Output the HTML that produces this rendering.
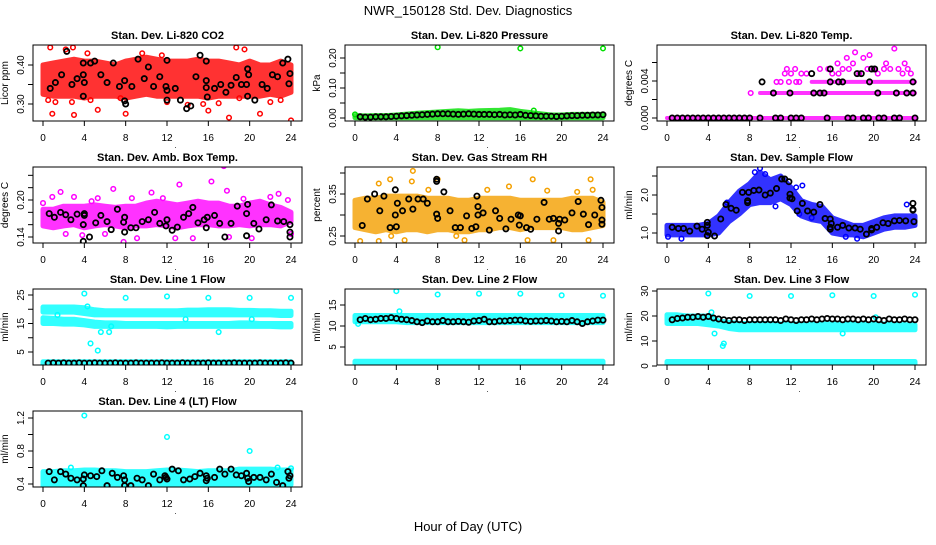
<!DOCTYPE html>
<html><head><meta charset="utf-8"><style>
html,body{margin:0;padding:0;background:#fff;}
svg text{font-family:"Liberation Sans",Arial,sans-serif;}
</style></head><body>
<svg id="chart" width="936" height="540" viewBox="0 0 936 540" xmlns="http://www.w3.org/2000/svg">
<rect x="0" y="0" width="936" height="540" fill="#fff"/>
<text x="468" y="15" text-anchor="middle" font-size="13">NWR_150128  Std. Dev. Diagnostics</text>
<text x="468" y="531" text-anchor="middle" font-size="13">Hour of Day (UTC)</text>
</svg>
<script>
const bandHours=[0,1,2,3,4,5,6,7,8,9,10,11,12,13,14,15,16,17,18,19,20,21,22,23,24];
const xTicks=[0,4,8,12,16,20,24];

// CO2
const co2Lo=[0.325,0.32,0.32,0.32,0.315,0.32,0.32,0.32,0.315,0.32,0.325,0.32,0.32,0.32,0.32,0.32,0.315,0.32,0.32,0.32,0.32,0.32,0.325,0.32,0.33];
const co2Hi=[0.40,0.405,0.41,0.415,0.41,0.41,0.405,0.40,0.41,0.415,0.42,0.415,0.41,0.41,0.41,0.415,0.41,0.41,0.405,0.40,0.41,0.40,0.40,0.41,0.40];
const co2PtT=[0.7,0.9,2.2,2.9,3,4.3,5.3,8,9.6,11.5,16,18,18.7,19.5,21,24,0.5,1.2,2.8,4.6,7.5,12,14,15.5,17,19,22,23];
const co2PtV=[0.445,0.275,0.44,0.445,0.272,0.43,0.285,0.275,0.43,0.425,0.283,0.265,0.445,0.44,0.275,0.258,0.31,0.305,0.305,0.31,0.315,0.305,0.298,0.3,0.302,0.315,0.305,0.31];
const co2BkT=[0.7,1.2,1.8,2.3,2.8,3.3,3.9,3.9,3.9,4.0,4.6,5.0,5.6,6.2,6.8,7.4,7.9,7.9,8,8.6,9.2,9.8,10.2,10.7,11.3,11.9,12,12,12,12.8,13.3,13.9,14.3,14.8,15.2,15.8,15.8,15.9,15.8,16.6,17.2,17.7,18.2,18.7,19.2,19.7,19.8,19.8,19.9,20.5,21.2,21.7,22.2,22.7,23.2,23.7,23.8,23.9];
const co2BkV=[0.34,0.355,0.375,0.435,0.35,0.365,0.405,0.375,0.32,0.355,0.405,0.41,0.375,0.355,0.405,0.345,0.36,0.308,0.30,0.345,0.415,0.365,0.395,0.345,0.37,0.345,0.335,0.31,0.412,0.34,0.31,0.288,0.295,0.37,0.425,0.36,0.342,0.318,0.41,0.34,0.35,0.33,0.348,0.368,0.35,0.35,0.39,0.32,0.375,0.31,0.35,0.34,0.375,0.37,0.405,0.415,0.352,0.378];

// Pressure
const presLo=[0.001,0.001,0.001,0.001,0.001,0.001,0.001,0.001,0.001,0.001,0.001,0.001,0.001,0.001,0.001,0.001,0.001,0.001,0.001,0.001,0.001,0.001,0.001,0.001,0.001];
const presHi=[0.008,0.007,0.008,0.008,0.01,0.013,0.016,0.018,0.02,0.022,0.024,0.022,0.024,0.025,0.026,0.028,0.022,0.018,0.014,0.01,0.01,0.012,0.012,0.012,0.012];
const presPtT=[8,16,24,0,17.3];
const presPtV=[0.236,0.232,0.232,0.012,0.025];
const presBkV=[0.004,0.003,0.003,0.004,0.004,0.004,0.005,0.006,0.007,0.008,0.009,0.010,0.011,0.012,0.013,0.014,0.014,0.014,0.013,0.012,0.013,0.014,0.013,0.012,0.012,0.012,0.011,0.012,0.010,0.011,0.010,0.012,0.009,0.008,0.007,0.006,0.006,0.006,0.005,0.006,0.007,0.008,0.008,0.009,0.009,0.010,0.010,0.011];

// Li-820 Temp
const tmpBaseLo=[0,0,0,0,0,0,0,0,0,0,0,0,0,0,0,0,0,0,0,0,0,0,0,0,0];
const tmpL2=[null,null,null,null,null,null,null,null,null,0.0027,0.0027,0.0027,0.0027,0.0027,0.0027,0.0027,0.0027,0.0027,0.0027,0.0027,0.0027,0.0027,0.0027,0.0027,0.0027];
const tmpL3=[null,null,null,null,null,null,null,null,null,null,null,null,null,null,0.0039,0.0039,0.0039,0.0039,0.0039,0.0039,0.0039,0.0039,0.0039,0.0039,0.0039];
const tmpPtT=[8.1,11.4,11.6,12.4,12,13,13.5,14.8,15.6,16,16.5,16.6,17,17.4,17.6,18,18.2,18.6,19,19.4,19.6,20,20.4,21,21.2,21.6,22,22.4,22.8,23,23.3,23.6,12.8,11,10.6,11.8,12.5];
const tmpPtV=[0.0027,0.0048,0.0053,0.0053,0.0048,0.0048,0.0048,0.0053,0.0053,0.0048,0.0059,0.0048,0.0053,0.0065,0.0053,0.0059,0.0071,0.0048,0.0065,0.0053,0.0068,0.0053,0.0048,0.0053,0.0059,0.0053,0.0075,0.0053,0.0048,0.0059,0.0053,0.0048,0.0039,0.0039,0.0039,0.0039,0.0039];
const tmpBkT=[0.5,1,1.5,2,2.5,3,3.5,4,4.5,5,5.5,6,6.5,7,7.5,8,9,10.5,11,12,12.5,13,15.5,17.5,18,19,19.5,20.5,21,22,22.5,24,9.2,10.3,11.9,14,14.2,14.8,15.2,15.8,15.8,16.6,17,18.4,18.8,19.8,19.6,20.1,20.4,22.2,23.2,23.8,23.8];
const tmpBkV=[0,0,0,0,0,0,0,0,0,0,0,0,0,0,0,0,0,0,0,0,0,0,0,0,0,0,0,0,0,0,0,0,0.0039,0.0027,0.0027,0.0048,0.0027,0.0027,0.0027,0.0053,0.0039,0.0039,0.0039,0.0048,0.0048,0.0053,0.0039,0.0053,0.0027,0.0027,0.0027,0.0039,0.0027];

// Amb box temp
const ambLo=[0.158,0.155,0.158,0.16,0.155,0.158,0.16,0.158,0.155,0.158,0.158,0.16,0.158,0.155,0.158,0.16,0.16,0.158,0.158,0.16,0.158,0.16,0.16,0.158,0.165];
const ambHi=[0.185,0.185,0.19,0.19,0.19,0.192,0.19,0.188,0.19,0.19,0.195,0.198,0.195,0.192,0.195,0.198,0.195,0.195,0.19,0.19,0.195,0.198,0.192,0.188,0.18];
const ambPtT=[0,0.9,1.7,2.2,3,4.7,5.3,6.8,7.8,8.6,9.1,10.5,11.6,12.8,13.2,14.5,16.3,17.5,17.8,18,19.4,20.2,22,22.8,23.7,24,6,3.8];
const ambPtV=[0.195,0.205,0.213,0.145,0.205,0.198,0.203,0.218,0.132,0.203,0.138,0.212,0.203,0.138,0.225,0.138,0.23,0.255,0.215,0.14,0.202,0.138,0.205,0.21,0.2,0.145,0.145,0.143];
const ambBkT=[0.6,1.1,1.7,2.2,2.7,3.3,3.9,3.9,4.0,4.0,4.5,5.1,5.6,6.2,6.6,7.2,7.8,7.9,7.9,8.5,9.0,9.6,10.2,10.8,11.3,11.9,12.0,12.5,13.0,13.6,14.1,14.5,15.0,15.6,15.8,15.9,16.6,17.1,17.6,18.2,18.8,19.7,19.7,19.8,20.4,20.9,21.6,22.1,22.7,23.3,23.9,23.9,23.9];
const ambBkV=[0.178,0.172,0.18,0.176,0.168,0.177,0.133,0.16,0.175,0.178,0.14,0.163,0.175,0.165,0.152,0.185,0.164,0.148,0.172,0.155,0.155,0.165,0.168,0.18,0.162,0.158,0.168,0.151,0.156,0.172,0.178,0.188,0.163,0.168,0.155,0.172,0.175,0.162,0.14,0.162,0.19,0.142,0.178,0.193,0.162,0.153,0.168,0.192,0.166,0.165,0.14,0.148,0.16];

// Gas stream RH
const rhLo=[0.27,0.265,0.26,0.265,0.26,0.265,0.265,0.26,0.265,0.265,0.26,0.26,0.265,0.265,0.27,0.27,0.265,0.27,0.27,0.27,0.27,0.265,0.265,0.27,0.275];
const rhHi=[0.335,0.34,0.34,0.345,0.345,0.345,0.345,0.34,0.34,0.34,0.335,0.335,0.34,0.34,0.34,0.34,0.335,0.335,0.335,0.335,0.335,0.34,0.34,0.34,0.33];
const rhPtT=[0.5,2.3,3.4,2.3,4.8,5.6,5.5,7.1,8,9.8,10.6,14.9,16.7,17.2,18.6,19.2,21.5,22.6,22.8,23,3.5,12.8];
const rhPtV=[0.238,0.375,0.385,0.238,0.24,0.405,0.38,0.36,0.385,0.25,0.24,0.368,0.24,0.385,0.358,0.24,0.355,0.24,0.385,0.36,0.25,0.36];
const rhBkT=[0.7,1.2,1.9,2.4,2.8,3.4,3.9,3.9,4.0,4.1,4.6,5.2,5.6,6.1,6.6,7.0,7.9,7.9,7.9,8.0,8.6,9.2,9.7,10.2,10.8,11.3,11.7,11.8,11.9,11.9,12.4,13.0,13.6,14.0,14.6,15.1,15.8,15.9,16.0,16.6,17.0,17.6,18.3,18.8,19.2,19.7,19.7,19.8,20.3,21.0,21.6,22.1,22.6,23.2,23.8,23.9,23.9,23.9];
const rhBkV=[0.275,0.338,0.35,0.31,0.345,0.27,0.36,0.3,0.272,0.328,0.31,0.338,0.314,0.338,0.338,0.328,0.385,0.38,0.302,0.292,0.355,0.31,0.27,0.27,0.298,0.268,0.272,0.345,0.32,0.3,0.305,0.264,0.31,0.292,0.267,0.29,0.3,0.276,0.298,0.27,0.266,0.29,0.33,0.29,0.292,0.262,0.28,0.29,0.288,0.305,0.332,0.302,0.277,0.3,0.335,0.288,0.278,0.318];

// Sample flow
const sfLo=[0.95,0.95,0.95,0.95,0.95,1.0,1.3,1.5,1.75,1.8,1.8,1.9,1.75,1.45,1.35,1.3,1.0,0.95,0.95,0.9,1.0,1.1,1.15,1.15,1.2];
const sfHi=[1.2,1.2,1.2,1.2,1.25,1.45,1.8,2.1,2.3,2.6,2.4,2.5,2.2,1.85,1.75,1.7,1.4,1.3,1.2,1.2,1.3,1.4,1.45,1.45,1.45];
const sfPtT=[0.1,1.4,9.0,8.5,10.5,12.5,12.8,13.1,14,17.3,18.4,23.2,5.8,9.5];
const sfPtV=[0.9,0.85,2.7,2.6,1.7,2.2,1.5,2.25,1.4,0.9,0.85,1.75,1.8,2.55];
const sfBkT=[0.5,1.1,1.6,2.2,2.9,3.4,3.9,3.9,4.0,3.9,4.6,5.2,5.7,6.2,6.7,7.3,7.8,7.8,7.9,8.4,8.9,9.5,10.0,10.6,11.1,11.4,11.8,11.9,11.9,12.1,12.6,13.1,13.6,14.2,14.8,15.3,15.8,15.8,15.9,15.8,16.5,17.0,17.6,18.2,18.7,19.3,19.8,19.8,20.3,20.9,21.4,22.0,22.5,23.1,23.8,23.8,23.9,23.8];
const sfBkV=[1.15,1.12,1.12,1.05,1.18,1.1,1.28,1.2,1.02,0.93,0.92,1.37,1.75,1.65,1.6,2.07,1.85,1.8,2.07,2.12,2.13,2.0,2.05,2.17,2.42,2.42,2.35,2.02,1.92,1.9,1.58,1.78,1.58,1.55,1.75,1.38,1.37,1.15,1.25,1.1,1.15,1.2,1.13,1.13,1.1,0.97,1.08,1.12,1.15,1.27,1.25,1.32,1.33,1.32,1.78,1.62,1.3,1.6];

// Line 1
const l1ALo=[19,19,19,19,18.5,18,18,18,18,18,18,18,18,18,18,18,18,18,18,18,18,18,18,17.8,17.8];
const l1AHi=[20.8,20.8,20.8,20.8,20.5,19.8,19.5,19.5,19.5,19.5,19.5,19.5,19.5,19.5,19.7,19.7,19.8,19.8,19.8,19.6,19.6,19.5,19.5,19.3,19.3];
const l1BLo=[15,15,14.8,14.8,14.5,14,14,14,14,14,14,14,13.8,14,14,14,14,14,14,14,14,14,14,13.8,13.8];
const l1BHi=[17,16.8,16.5,16.5,16,15.5,15.2,15.2,15,15,15,15,15,15,15,15,15,15,15,15.2,15.2,15,15,15,15];
const l1CLo=[0.6,0.6,0.6,0.6,0.6,0.6,0.6,0.6,0.6,0.6,0.6,0.6,0.6,0.6,0.6,0.6,0.6,0.6,0.6,0.6,0.6,0.6,0.6,0.6,0.6];
const l1CHi=[1.6,1.6,1.6,1.6,1.6,1.6,1.6,1.6,1.6,1.6,1.6,1.6,1.6,1.6,1.6,1.6,1.6,1.6,1.6,1.6,1.6,1.6,1.6,1.6,1.6];
const l1PtT=[4,8,12,16,20,24,4.3,4.6,5.3,5.6,6.4,6.6,1.4,13.8,17,20.2];
const l1PtV=[25.5,24,24.5,24,24,24,21,8,5.5,12,12,14,18,16.5,12,16.5];
const l1BkV=[1.1,1.2,1.1,1.2,1.1,1.1,1.2,1.1,1.1,1.2,1.1,1.1,1.1,1.2,1.1,1.1,1.1,1.2,1.1,1.1,1.1,1.1,1.2,1.1,1.1,1.1,1.2,1.1,1.1,1.1,1.1,1.2,1.1,1.1,1.1,1.1,1.2,1.1,1.1,1.1,1.1,1.2,1.1,1.1,1.1,1.1,1.2,1.1];

// Line 2
const l2ALo=[11,11,11,11,11,10.8,10.8,10.8,10.8,10.8,10.8,10.8,10.8,10.8,10.8,10.8,10.8,10.8,10.8,10.8,10.8,10.8,10.8,10.8,10.8];
const l2AHi=[12.5,12.5,12.5,12.5,12.5,12.5,12.5,12.5,12.5,12.5,12.5,12.5,12.5,12.5,12.5,12.5,12.5,12.5,12.5,12.5,12.5,12.5,12.5,12.5,12.5];
const l2CLo=[0.6,0.6,0.6,0.6,0.6,0.6,0.6,0.6,0.6,0.6,0.6,0.6,0.6,0.6,0.6,0.6,0.6,0.6,0.6,0.6,0.6,0.6,0.6,0.6,0.6];
const l2CHi=[1.6,1.6,1.6,1.6,1.6,1.6,1.6,1.6,1.6,1.6,1.6,1.6,1.6,1.6,1.6,1.6,1.6,1.6,1.6,1.6,1.6,1.6,1.6,1.6,1.6];
const l2PtT=[4,4.3,8,12,16,20,24,0.3];
const l2PtV=[18.3,13.5,17.5,17.7,17.7,17.3,17.2,10.5];
const l2BkV=[11.5,11.8,11.5,11.6,11.8,11.8,12,11.8,11.6,11.5,11.3,11,10.8,11.2,11,11,11.3,11,11,11.1,11,10.9,11.2,11.3,11.6,11,11,11.2,11.2,11.3,11.4,11.4,11.2,11.1,11.2,11.2,11.3,11.2,11,11.1,11,11.3,11,10.6,11,11.2,11.4,11.4];

// Line 3
const l3ALo=[17,17,17,17,16.5,16,15,14.5,14.5,14.5,14.5,14.5,14.5,14.5,14.5,14.5,14.5,14.5,14.5,14.5,14.5,14.5,14.5,14.5,14.5];
const l3AHi=[20.5,20.5,20,20,20,18,17.5,17,17,17,17,16.8,16.8,16.8,16.8,16.8,16.8,16.8,16.8,16.8,16.8,16.8,16.8,16.5,16.5];
const l3CLo=[0.6,0.6,0.6,0.6,0.6,0.6,0.6,0.6,0.6,0.6,0.6,0.6,0.6,0.6,0.6,0.6,0.6,0.6,0.6,0.6,0.6,0.6,0.6,0.6,0.6];
const l3CHi=[1.8,1.8,1.8,1.8,1.8,1.8,1.8,1.8,1.8,1.8,1.8,1.8,1.8,1.8,1.8,1.8,1.8,1.8,1.8,1.8,1.8,1.8,1.8,1.8,1.8];
const l3PtT=[4,8,12,16,20,24,4.3,4.6,5.4,5.5,17,20.2];
const l3PtV=[29,28,28,28.3,28,28.5,21.5,13,8,9,13,19.5];
const l3BkV=[18.5,19,19.2,19.5,19.5,19.8,19.5,19.8,19.2,18.8,18.5,18.2,18.5,18.5,18.2,18.5,18.5,18.5,18.5,18.5,18.5,18.2,18.8,18.5,18.2,18.5,18.5,18.8,18.5,18.8,19,18.8,18.8,18.5,18.8,18.8,18.5,18.8,18.5,18.8,18.5,18.2,18.8,18.5,18.5,18.8,18.5,18.5];

// Line 4
const l4Lo=[0.38,0.37,0.36,0.37,0.37,0.37,0.37,0.37,0.36,0.37,0.37,0.38,0.37,0.37,0.36,0.36,0.37,0.37,0.37,0.37,0.37,0.37,0.38,0.38,0.39];
const l4Hi=[0.55,0.55,0.56,0.56,0.57,0.57,0.56,0.56,0.55,0.55,0.55,0.56,0.57,0.57,0.56,0.55,0.56,0.56,0.56,0.58,0.58,0.58,0.58,0.57,0.57];
const l4PtT=[4,12,20,1.8,2.7,13.6,14.2,19.6,20.9,22.7,24];
const l4PtV=[1.23,0.97,0.8,0.33,0.6,0.33,0.33,0.33,0.33,0.6,0.59];
const l4BkT=[0.6,1.1,1.7,2.2,2.7,3.3,3.9,3.9,4.0,4.6,5.2,5.7,6.2,6.7,7.2,7.8,7.9,7.9,8.5,9.1,9.6,10.2,10.7,11.3,11.8,11.9,12.0,12.5,13.1,13.6,14.2,14.7,15.2,15.8,15.8,15.9,16.6,17.1,17.6,18.2,18.7,19.2,19.7,19.8,19.9,20.4,21.0,21.6,22.1,22.6,23.2,23.7,23.8,23.9];
const l4BkV=[0.55,0.45,0.55,0.52,0.47,0.45,0.38,0.46,0.51,0.5,0.49,0.56,0.38,0.53,0.48,0.5,0.45,0.38,0.38,0.47,0.45,0.38,0.52,0.45,0.5,0.48,0.46,0.58,0.56,0.45,0.46,0.49,0.53,0.5,0.44,0.47,0.48,0.58,0.52,0.58,0.51,0.5,0.53,0.47,0.43,0.48,0.48,0.45,0.52,0.42,0.38,0.55,0.47,0.5];

const halfHours=[];for(let i=1;i<=48;i++)halfHours.push(i*0.5);

const NS="http://www.w3.org/2000/svg";
const svg=document.getElementById('chart');
function mk(tag,attrs,parent){const e=document.createElementNS(NS,tag);for(const k in attrs)e.setAttribute(k,attrs[k]);(parent||svg).appendChild(e);return e;}

const panels=[
 {name:'co2',title:'Stan. Dev. Li-820 CO2',ylab:'Licor ppm',col:0,row:0,v0:0.30,p0:104,v1:0.40,p1:65,ticks:[0.30,0.35,0.40],labels:['0.30','','0.40'],color:'#ff0000',
  bands:[[co2Lo,co2Hi]],pts:[co2PtT,co2PtV],blk:[co2BkT,co2BkV]},
 {name:'pressure',title:'Stan. Dev. Li-820 Pressure',ylab:'kPa',col:1,row:0,v0:0,p0:118,v1:0.2,p1:58,ticks:[0,0.05,0.1,0.15,0.2],labels:['0.00','','0.10','','0.20'],color:'#00e000',
  bands:[[presLo,presHi]],pts:[presPtT,presPtV],blk:[halfHours,presBkV]},
 {name:'li820-temp',title:'Stan. Dev. Li-820 Temp.',ylab:'degrees C',col:2,row:0,v0:0,p0:118,v1:0.004,p1:81,ticks:[0,0.002,0.004,0.006],labels:['0.000','','0.004',''],color:'#ff00ff',
  bands:[[tmpBaseLo,tmpBaseLo],[tmpL2,tmpL2],[tmpL3,tmpL3]],pts:[tmpPtT,tmpPtV],blk:[tmpBkT,tmpBkV],thin:true},
 {name:'amb-box-temp',title:'Stan. Dev. Amb. Box Temp.',ylab:'degrees C',col:0,row:1,v0:0.14,p0:237,v1:0.20,p1:200,ticks:[0.14,0.16,0.18,0.20,0.22,0.24],labels:['0.14','','','0.20','',''],color:'#ff00ff',
  bands:[[ambLo,ambHi]],pts:[ambPtT,ambPtV],blk:[ambBkT,ambBkV]},
 {name:'gas-stream-rh',title:'Stan. Dev. Gas Stream RH',ylab:'percent',col:1,row:1,v0:0.25,p0:236,v1:0.35,p1:194,ticks:[0.25,0.30,0.35,0.40],labels:['0.25','','0.35',''],color:'#f4a000',
  bands:[[rhLo,rhHi]],pts:[rhPtT,rhPtV],blk:[rhBkT,rhBkV]},
 {name:'sample-flow',title:'Stan. Dev. Sample Flow',ylab:'ml/min',col:2,row:1,v0:1.0,p0:233,v1:2.0,p1:195,ticks:[1.0,1.5,2.0,2.5],labels:['1.0','','2.0',''],color:'#0000ff',
  bands:[[sfLo,sfHi]],pts:[sfPtT,sfPtV],blk:[sfBkT,sfBkV]},
 {name:'line1-flow',title:'Stan. Dev. Line 1 Flow',ylab:'ml/min',col:0,row:2,v0:5,p0:352,v1:25,p1:295,ticks:[5,10,15,20,25],labels:['5','','15','','25'],color:'#00ffff',
  bands:[[l1ALo,l1AHi],[l1BLo,l1BHi],[l1CLo,l1CHi]],pts:[l1PtT,l1PtV],blk:[halfHours,l1BkV]},
 {name:'line2-flow',title:'Stan. Dev. Line 2 Flow',ylab:'ml/min',col:1,row:2,v0:5,p0:347,v1:15,p1:305,ticks:[5,10,15],labels:['5','10','15'],color:'#00ffff',
  bands:[[l2ALo,l2AHi],[l2CLo,l2CHi]],pts:[l2PtT,l2PtV],blk:[halfHours,l2BkV]},
 {name:'line3-flow',title:'Stan. Dev. Line 3 Flow',ylab:'ml/min',col:2,row:2,v0:0,p0:366,v1:30,p1:291,ticks:[0,10,20,30],labels:['0','10','20','30'],color:'#00ffff',
  bands:[[l3ALo,l3AHi],[l3CLo,l3CHi]],pts:[l3PtT,l3PtV],blk:[halfHours,l3BkV]},
 {name:'line4-flow',title:'Stan. Dev. Line 4 (LT) Flow',ylab:'ml/min',col:0,row:3,v0:0.4,p0:484,v1:1.2,p1:418,ticks:[0.4,0.6,0.8,1.0,1.2],labels:['0.4','','0.8','','1.2'],color:'#00ffff',
  bands:[[l4Lo,l4Hi]],pts:[l4PtT,l4PtV],blk:[l4BkT,l4BkV]}
];

panels.forEach(p=>{
  const L=33+312*p.col, R=302+312*p.col, T=45+122*p.row, B=121+122*p.row;
  const x0=43+312*p.col;
  const xs=h=>x0+h*248/24;
  const ys=v=>p.p0+(v-p.v0)*(p.p1-p.p0)/(p.v1-p.v0);
  const g=mk('g',{});
  
  
  const clipId='clip-'+p.name;
  const cp=mk('clipPath',{id:clipId},g);mk('rect',{x:L,y:T,width:R-L,height:B-T},cp);
  const plot=mk('g',{'clip-path':'url(#'+clipId+')'},g);
  
  
  p.bands.forEach((bd,bi)=>{
    const lo=bd[0],hi=bd[1];
    let seg=[];
    const segs=[];
    bandHours.forEach((h,i)=>{ if(lo[i]==null){ if(seg.length)segs.push(seg); seg=[]; } else seg.push(i); });
    if(seg.length)segs.push(seg);
    segs.forEach(s=>{
      let pts=s.map(i=>xs(bandHours[i]).toFixed(1)+','+ys(hi[i]).toFixed(1));
      pts=pts.concat(s.slice().reverse().map(i=>xs(bandHours[i]).toFixed(1)+','+ys(lo[i]).toFixed(1)));
      const poly=mk('polygon',{points:pts.join(' '),fill:p.color,stroke:p.color,'stroke-width':p.thin?4:5,'stroke-linejoin':'round',opacity:0.8},plot);
      
      
    });
  });
  p.pts[0].forEach((t,i)=>{
    const c=mk('circle',{cx:xs(t),cy:ys(p.pts[1][i]),r:2.3,fill:'none',stroke:p.color,'stroke-width':1.5},plot);
    
    
  });
  p.blk[0].forEach((t,i)=>{
    const c=mk('circle',{cx:xs(t),cy:ys(p.blk[1][i]),r:2.6,fill:'none',stroke:'#000','stroke-width':1.8},plot);
    
    
  });
  const box=mk('rect',{x:L,y:T,width:R-L,height:B-T,fill:'none',stroke:'#000','stroke-width':1},g);
  
  
  const tt=mk('text',{x:(L+R)/2,y:T-6,'text-anchor':'middle','font-size':11,'font-weight':'bold'},g);
  tt.textContent=p.title;
  
  
  xTicks.forEach(h=>{
    mk('line',{x1:xs(h),x2:xs(h),y1:B,y2:B+5,stroke:'#000','stroke-width':1},g);
    const tl=mk('text',{x:xs(h),y:B+20,'text-anchor':'middle','font-size':10},g);
    tl.textContent=h;
    
    
  });
  const dot=mk('text',{x:(L+R)/2+8,y:B+27,'text-anchor':'middle','font-size':8},g);
  dot.textContent='.';
  p.ticks.forEach((v,i)=>{
    const y=ys(v); if(y<T-1||y>B+1)return;
    mk('line',{x1:L-5,x2:L,y1:y,y2:y,stroke:'#000','stroke-width':1},g);
    if(p.labels[i]){
      const tl=mk('text',{x:L-9,y:y,'text-anchor':'middle','font-size':10,transform:'rotate(-90 '+(L-9)+' '+y+')'},g);
      tl.textContent=p.labels[i];
      
      
    }
  });
  const yl=mk('text',{x:L-25,y:(T+B)/2,'text-anchor':'middle','font-size':10,transform:'rotate(-90 '+(L-25)+' '+((T+B)/2)+')'},g);
  yl.textContent=p.ylab;
  
  
});
</script>
</body></html>
